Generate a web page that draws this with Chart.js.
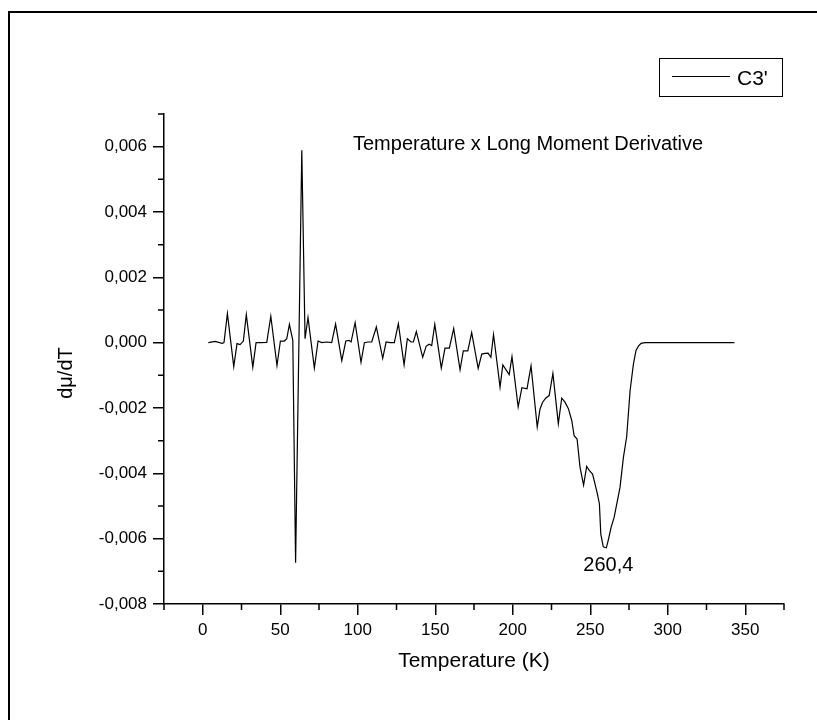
<!DOCTYPE html>
<html>
<head>
<meta charset="utf-8">
<script src="https://cdn.jsdelivr.net/npm/chart.js@4/dist/chart.umd.min.js"></script>
<style>
  html, body { margin: 0; padding: 0; background: #fff; }
  canvas { display: block; }
</style>
</head>
<body>
<canvas id="c" width="817" height="720"></canvas>
<script>
// Temperature (K) of each sample
const temperatureK = [
  3.6, 7.9, 12.6, 13.7, 15.9, 20.0, 22.1, 24.1, 26.2, 28.1,
  32.3, 34.4, 37.0, 41.3, 43.9, 47.9, 50.1, 52.6, 54.2, 55.9,
  58.1, 59.9, 63.9, 66.0, 67.9, 72.0, 74.4, 76.8, 80.0, 83.2,
  85.7, 89.7, 92.3, 94.4, 95.7, 98.3, 102.1, 104.3, 106.6, 109.0,
  112.0, 116.1, 118.3, 120.8, 123.6, 126.2, 129.9, 132.0, 134.4, 135.9,
  137.8, 141.9, 144.1, 146.0, 147.7, 149.7, 153.9, 156.3, 159.1, 161.9,
  166.0, 168.1, 171.0, 173.5, 177.7, 180.0, 182.1, 184.1, 185.9, 187.6,
  191.8, 193.6, 197.7, 199.5, 203.5, 205.9, 209.2, 211.8, 215.8, 217.6,
  219.2, 221.2, 223.5, 225.9, 229.4, 231.6, 233.7, 235.9, 238.1, 239.6,
  241.5, 243.4, 245.7, 247.7, 249.5, 251.5, 253.1, 254.6, 255.9, 256.8,
  258.4, 260.4, 261.8, 263.4, 265.4, 267.5, 269.2, 271.4, 273.5, 275.7,
  277.8, 279.5, 281.2, 282.8, 285.4, 290, 295, 300, 305, 310,
  315, 320, 325, 330, 335, 340, 343
];

// dμ/dT for each sample
const dMuDT = [
  0.00000, 0.00004, -0.00002, 0.00000, 0.00089, -0.00073, -0.00003, -0.00006, 0.00005, 0.00086,
  -0.00075, 0.00000, 0.00000, 0.00001, 0.00081, -0.00070, 0.00005, 0.00005, 0.00012, 0.00056,
  0.00007, -0.00674, 0.00589, 0.00012, 0.00077, -0.00078, 0.00005, 0.00000, 0.00002, 0.00000,
  0.00057, -0.00055, 0.00005, 0.00007, 0.00002, 0.00061, -0.00060, 0.00000, 0.00002, 0.00002,
  0.00048, -0.00048, 0.00002, 0.00000, 0.00000, 0.00058, -0.00068, 0.00012, 0.00002, 0.00002,
  0.00034, -0.00045, -0.00011, -0.00005, -0.00009, 0.00056, -0.00078, -0.00017, -0.00017, 0.00043,
  -0.00083, -0.00025, -0.00025, 0.00031, -0.00079, -0.00035, -0.00033, -0.00032, -0.00045, 0.00025,
  -0.00136, -0.00068, -0.00098, -0.00043, -0.00197, -0.00138, -0.00141, -0.00071, -0.00258, -0.00203,
  -0.00183, -0.00170, -0.00162, -0.00094, -0.00248, -0.00170, -0.00182, -0.00202, -0.00239, -0.00285,
  -0.00295, -0.00381, -0.00436, -0.00379, -0.00392, -0.00402, -0.00433, -0.00463, -0.00493, -0.00586,
  -0.00625, -0.00628, -0.00601, -0.00566, -0.00535, -0.00484, -0.00443, -0.00351, -0.00288, -0.00147,
  -0.00067, -0.00024, -0.00010, -0.00002, 0.00000, 0, 0, 0, 0, 0,
  0, 0, 0, 0, 0, 0, 0
];

const xMajorTicks = [0, 50, 100, 150, 200, 250, 300, 350];
const xMinorTicks = [-25, 25, 75, 125, 175, 225, 275, 325, 375];
const yMajorTicks = [-0.008, -0.006, -0.004, -0.002, 0, 0.002, 0.004, 0.006];
const yMinorTicks = [-0.007, -0.005, -0.003, -0.001, 0.001, 0.003, 0.005, 0.007];

const seriesName = "C3'";
const plotTitle = 'Temperature x Long Moment Derivative';
const xTitle = 'Temperature (K)';
const yTitle = 'dμ/dT';
const peakT = 260.4;

const FONT = "'Liberation Sans', Arial, Helvetica, sans-serif";

function commaNum(v, digits) {
  if (Math.abs(v) < 1e-12) v = 0;
  return v.toFixed(digits).replace('.', ',');
}

const points = temperatureK.map((t, i) => ({ x: t, y: dMuDT[i] }));

// outer frame of the figure
const framePlugin = {
  id: 'frame',
  beforeDraw(chart) {
    const ctx = chart.ctx;
    ctx.save();
    ctx.fillStyle = '#fff';
    ctx.fillRect(0, 0, chart.width, chart.height);
    ctx.fillStyle = '#000';
    ctx.fillRect(8, 11, 2, chart.height - 11);
    ctx.fillRect(8, 11, chart.width - 8, 2);
    ctx.restore();
  }
};

// short minor tick marks on both axes
const minorTickPlugin = {
  id: 'minorTicks',
  afterDraw(chart) {
    const ctx = chart.ctx;
    const xs = chart.scales.x, ys = chart.scales.y;
    const area = chart.chartArea;
    ctx.save();
    ctx.strokeStyle = '#000';
    ctx.lineWidth = 1.5;
    ctx.beginPath();
    xMinorTicks.forEach(v => {
      const px = xs.getPixelForValue(v);
      ctx.moveTo(px, area.bottom);
      ctx.lineTo(px, area.bottom + 6);
    });
    yMinorTicks.forEach(v => {
      const py = ys.getPixelForValue(v);
      ctx.moveTo(area.left - 6, py);
      ctx.lineTo(area.left, py);
    });
    ctx.stroke();
    ctx.restore();
  }
};

// y-axis title, in-plot title, peak label and legend box
const annotationPlugin = {
  id: 'annotations',
  afterDatasetsDraw(chart) {
    const ctx = chart.ctx;
    const xs = chart.scales.x, ys = chart.scales.y;
    const area = chart.chartArea;
    ctx.save();
    ctx.fillStyle = '#000';

    // y-axis title, rotated to read upwards
    ctx.save();
    ctx.translate(66, area.top + (area.bottom - area.top) / 2 + 14);
    ctx.rotate(-Math.PI / 2);
    ctx.font = '20px ' + FONT;
    ctx.textAlign = 'center';
    ctx.textBaseline = 'middle';
    ctx.fillText(yTitle, 0, 0);
    ctx.restore();

    ctx.font = '20px ' + FONT;
    ctx.textAlign = 'left';
    ctx.textBaseline = 'alphabetic';
    ctx.fillText(plotTitle, area.left + 189, area.top + 36);

    const idx = temperatureK.indexOf(peakT);
    const px = xs.getPixelForValue(peakT);
    const py = ys.getPixelForValue(dMuDT[idx]);
    ctx.textAlign = 'center';
    ctx.textBaseline = 'top';
    ctx.fillText(commaNum(peakT, 1), px + 2, py + 8);

    // legend
    ctx.strokeStyle = '#000';
    ctx.lineWidth = 1;
    ctx.strokeRect(659.5, 58.5, 123, 38);
    ctx.beginPath();
    ctx.moveTo(672, 76.5);
    ctx.lineTo(730, 76.5);
    ctx.stroke();
    ctx.font = '21px ' + FONT;
    ctx.textAlign = 'left';
    ctx.textBaseline = 'alphabetic';
    ctx.fillText(seriesName, 737, 85);
    ctx.restore();
  }
};

new Chart(document.getElementById('c'), {
  type: 'scatter',
  data: {
    datasets: [{
      label: seriesName,
      data: points,
      showLine: true,
      borderColor: '#000',
      borderWidth: 1.2,
      pointRadius: 0,
      pointHoverRadius: 0,
      tension: 0,
      fill: false
    }]
  },
  options: {
    responsive: false,
    animation: false,
    devicePixelRatio: 1,
    layout: { padding: { left: 0, top: 114, right: 33, bottom: 0 } },
    plugins: {
      legend: { display: false },
      tooltip: { enabled: false },
      title: { display: false }
    },
    scales: {
      x: {
        type: 'linear',
        min: -25,
        max: 375,
        afterBuildTicks: s => { s.ticks = xMajorTicks.map(v => ({ value: v })); },
        afterFit: s => { s.height = 116; },
        grid: { drawOnChartArea: false, drawTicks: true, tickLength: 11, color: '#000', lineWidth: 1.5 },
        border: { display: true, color: '#000', width: 1.5 },
        ticks: {
          color: '#000',
          font: { family: FONT, size: 17 },
          padding: 5,
          maxRotation: 0,
          autoSkip: false,
          callback: v => String(v)
        },
        title: {
          display: true,
          text: xTitle,
          color: '#000',
          font: { family: FONT, size: 21 },
          padding: { top: 0, bottom: 46 }
        }
      },
      y: {
        type: 'linear',
        min: -0.008,
        max: 0.007,
        afterBuildTicks: s => { s.ticks = yMajorTicks.map(v => ({ value: v })); },
        afterFit: s => { s.width = 164; },
        grid: { drawOnChartArea: false, drawTicks: true, tickLength: 11, color: '#000', lineWidth: 1.5 },
        border: { display: true, color: '#000', width: 1.5 },
        ticks: {
          color: '#000',
          font: { family: FONT, size: 17 },
          padding: 6,
          autoSkip: false,
          callback: v => commaNum(v, 3)
        },
        title: { display: false }
      }
    }
  },
  plugins: [framePlugin, minorTickPlugin, annotationPlugin]
});
</script>
</body>
</html>
